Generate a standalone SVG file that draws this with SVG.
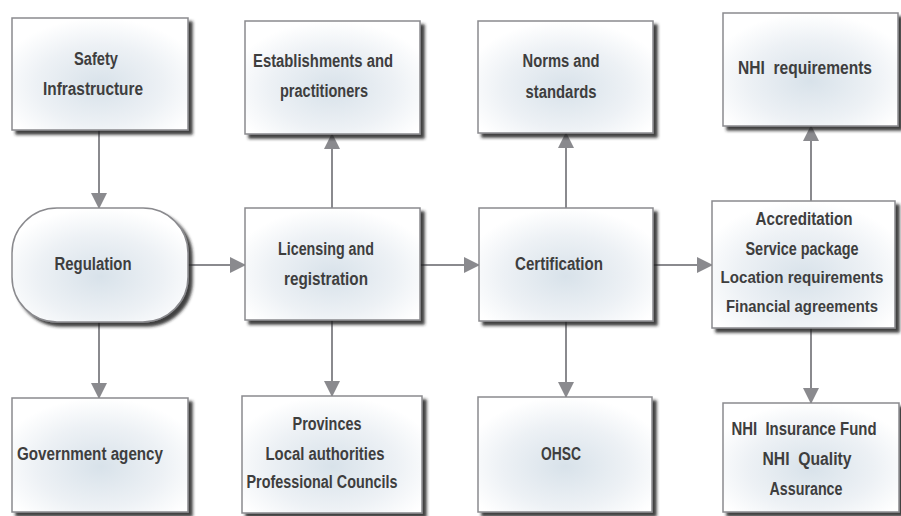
<svg xmlns="http://www.w3.org/2000/svg" width="901" height="516" viewBox="0 0 901 516">
<defs>
<radialGradient id="fill" cx="0.5" cy="0.6" r="0.6">
<stop offset="0" stop-color="#d8e2ea"/>
<stop offset="0.6" stop-color="#edf1f5"/>
<stop offset="1" stop-color="#ffffff"/>
</radialGradient>
<filter id="shadow" x="-10%" y="-10%" width="125%" height="130%">
<feDropShadow dx="4" dy="4" stdDeviation="1.5" flood-color="#1a1a1a" flood-opacity="0.85"/>
</filter>
<marker id="arrow" markerUnits="userSpaceOnUse" markerWidth="16" markerHeight="16" viewBox="0 0 16 16" refX="15" refY="8" orient="auto">
<path d="M0,0 L16,8 L0,16 Z" fill="#8a8a8e"/>
</marker>
</defs>
<style>
.box{fill:url(#fill);stroke:#8a8a8e;stroke-width:1.5;filter:url(#shadow)}
.t{font-family:"Liberation Sans",Arial,sans-serif;font-weight:bold;font-size:17.5px;fill:#3e3e3e;text-anchor:middle}
.s{font-size:16.5px}
.c{fill:none;stroke:#8a8a8e;stroke-width:2;marker-end:url(#arrow)}
</style>
<rect width="901" height="516" fill="#ffffff"/>
<g id="connectors">
<path class="c" d="M99,130 V208"/>
<path class="c" d="M99,322 V398"/>
<path class="c" d="M188,265 H245"/>
<path class="c" d="M332,208 V134"/>
<path class="c" d="M332,320 V396"/>
<path class="c" d="M420,265 H479"/>
<path class="c" d="M566,208 V133"/>
<path class="c" d="M566,321 V397"/>
<path class="c" d="M653,265 H712"/>
<path class="c" d="M811,201 V126"/>
<path class="c" d="M811,328 V403"/>
</g>
<g id="safety">
<rect class="box" x="12" y="18" width="176" height="112"/>
<text class="t" x="96" y="65" textLength="44" lengthAdjust="spacingAndGlyphs">Safety</text>
<text class="t" x="93" y="95" textLength="100" lengthAdjust="spacingAndGlyphs">Infrastructure</text>
</g>
<g id="regulation">
<rect class="box" x="12" y="208" width="176" height="114" rx="45" ry="45"/>
<text class="t" x="93" y="270" textLength="77" lengthAdjust="spacingAndGlyphs">Regulation</text>
</g>
<g id="government">
<rect class="box" x="12" y="398" width="176" height="114"/>
<text class="t" x="90" y="460" textLength="146" lengthAdjust="spacingAndGlyphs">Government agency</text>
</g>
<g id="establishments">
<rect class="box" x="245" y="21" width="175" height="113"/>
<text class="t" x="323" y="67" textLength="140" lengthAdjust="spacingAndGlyphs">Establishments and</text>
<text class="t" x="324" y="97" textLength="88" lengthAdjust="spacingAndGlyphs">practitioners</text>
</g>
<g id="licensing">
<rect class="box" x="245" y="208" width="175" height="112"/>
<text class="t" x="326" y="255" textLength="96" lengthAdjust="spacingAndGlyphs">Licensing and</text>
<text class="t" x="326" y="285" textLength="84" lengthAdjust="spacingAndGlyphs">registration</text>
</g>
<g id="provinces">
<rect class="box" x="242" y="396" width="180" height="117"/>
<text class="t" x="327" y="430" textLength="69" lengthAdjust="spacingAndGlyphs">Provinces</text>
<text class="t" x="325" y="460" textLength="119" lengthAdjust="spacingAndGlyphs">Local authorities</text>
<text class="t" x="322" y="488" textLength="151" lengthAdjust="spacingAndGlyphs">Professional Councils</text>
</g>
<g id="norms">
<rect class="box" x="478" y="21" width="175" height="112"/>
<text class="t" x="561" y="67" textLength="77" lengthAdjust="spacingAndGlyphs">Norms and</text>
<text class="t" x="561" y="98" textLength="71" lengthAdjust="spacingAndGlyphs">standards</text>
</g>
<g id="certification">
<rect class="box" x="479" y="208" width="174" height="113"/>
<text class="t" x="559" y="270" textLength="88" lengthAdjust="spacingAndGlyphs">Certification</text>
</g>
<g id="ohsc">
<rect class="box" x="478" y="397" width="174" height="115"/>
<text class="t" x="561" y="460" textLength="40" lengthAdjust="spacingAndGlyphs">OHSC</text>
</g>
<g id="nhi-requirements">
<rect class="box" x="723" y="13" width="175" height="113"/>
<text class="t" x="805" y="74" textLength="134" lengthAdjust="spacingAndGlyphs" xml:space="preserve">NHI  requirements</text>
</g>
<g id="accreditation">
<rect class="box" x="712" y="201" width="183" height="127"/>
<text class="t" x="804" y="225" textLength="97" lengthAdjust="spacingAndGlyphs">Accreditation</text>
<text class="t" x="802" y="255" textLength="113" lengthAdjust="spacingAndGlyphs">Service package</text>
<text class="t s" x="802" y="283" textLength="163" lengthAdjust="spacingAndGlyphs">Location requirements</text>
<text class="t s" x="802" y="312" textLength="152" lengthAdjust="spacingAndGlyphs">Financial agreements</text>
</g>
<g id="nhi-fund">
<rect class="box" x="723" y="403" width="176" height="109"/>
<text class="t" x="804" y="435" textLength="145" lengthAdjust="spacingAndGlyphs" xml:space="preserve">NHI  Insurance Fund</text>
<text class="t" x="807" y="465" textLength="89" lengthAdjust="spacingAndGlyphs" xml:space="preserve">NHI  Quality</text>
<text class="t" x="806" y="495" textLength="73" lengthAdjust="spacingAndGlyphs">Assurance</text>
</g>
</svg>
